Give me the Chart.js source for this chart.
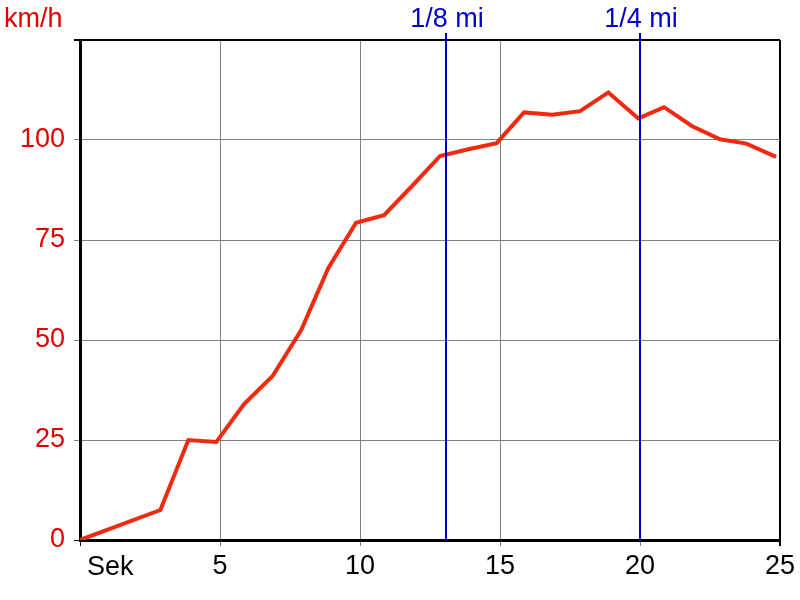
<!DOCTYPE html>
<html>
<head>
<meta charset="utf-8">
<script src="https://cdn.jsdelivr.net/npm/chart.js@4/dist/chart.umd.min.js"></script>
<style>
  body { margin: 0; background: #fff; }
  #wrap { width: 800px; height: 600px; }
</style>
</head>
<body>
<div id="wrap"><canvas id="chart" width="800" height="600"></canvas></div>
<script>
// seconds and speed
const seconds = [0, 2.87, 3.87, 4.87, 5.86, 6.88, 7.9, 8.87, 9.86, 10.86, 11.86, 12.86,
                 13.87, 14.88, 15.86, 16.86, 17.86, 18.87, 19.94, 20.86, 21.85, 22.86, 23.8, 24.86];
const speed = [0, 7.5, 25, 24.5, 34, 41, 52.5, 68, 79.3, 81.2, 88.5, 96,
               97.7, 99.2, 106.9, 106.3, 107.2, 111.9, 105.4, 108.2, 103.5, 100.2, 99.1, 95.8];

// distance markers (time in seconds)
const markerTimes = [13.07, 20.0];
const markerLabels = ['1/8 mi', '1/4 mi'];

const yTicks = [0, 25, 50, 75, 100, 125];
const xTicks = [0, 5, 10, 15, 20, 25];

const fontFamily = '"Liberation Sans", Arial, sans-serif';
const fontSize = 27;
const red = '#e00000';
const blue = '#0000c8';

const points = seconds.map((s, i) => ({ x: s, y: speed[i] }));

// draws markers, border and extra labels
const extras = {
    id: 'extras',
    afterDatasetsDraw(chart) {
        const ctx = chart.ctx;
        const area = chart.chartArea;
        const xs = chart.scales.x;
        ctx.save();

        // blue distance lines
        ctx.strokeStyle = blue;
        ctx.lineWidth = 2;
        ctx.font = fontSize + 'px ' + fontFamily;
        ctx.fillStyle = blue;
        ctx.textAlign = 'center';
        ctx.textBaseline = 'alphabetic';
        markerTimes.forEach((t, i) => {
            const px = Math.round(xs.getPixelForValue(t));
            ctx.beginPath();
            ctx.moveTo(px, area.top - 7);
            ctx.lineTo(px, area.bottom);
            ctx.stroke();
            ctx.fillText(markerLabels[i], px + 1, 27);
        });

        // unit labels
        ctx.fillStyle = red;
        ctx.textAlign = 'left';
        ctx.fillText('km/h', 4, 27);
        ctx.fillStyle = '#000';
        ctx.fillText('Sek', 87, 575);
        ctx.restore();
    }
};

new Chart(document.getElementById('chart'), {
    type: 'line',
    data: {
        datasets: [{
            data: points,
            borderColor: '#f02a10',
            borderWidth: 4,
            pointRadius: 0,
            tension: 0,
            fill: false
        }]
    },
    options: {
        responsive: false,
        animation: false,
        layout: { padding: { top: 40, right: 20, left: 0, bottom: 0 } },
        plugins: { legend: { display: false }, tooltip: { enabled: false } },
        scales: {
            x: {
                type: 'linear',
                min: 0,
                max: 25,
                afterBuildTicks: scale => { scale.ticks = xTicks.map(v => ({ value: v })); },
                afterFit: scale => { scale.height = 60; },
                ticks: {
                    color: '#000',
                    font: { family: fontFamily, size: fontSize },
                    padding: 4,
                    maxRotation: 0,
                    callback: v => (v === 0 ? '' : v)
                },
                grid: {
                    color: c => (c.tick && (c.tick.value === 25 || c.tick.value === 0) ? '#000' : '#808080'),
                    lineWidth: c => (c.tick && c.tick.value === 25 ? 2 : 1),
                    tickLength: 6
                },
                border: { color: '#000', width: 3 }
            },
            y: {
                min: 0,
                max: 125,
                afterBuildTicks: scale => { scale.ticks = yTicks.map(v => ({ value: v })); },
                afterFit: scale => { scale.width = 80; },
                ticks: {
                    color: red,
                    font: { family: fontFamily, size: fontSize },
                    padding: 9,
                    callback: v => (v === 125 ? '' : v)
                },
                grid: {
                    color: c => (c.tick && (c.tick.value === 125 || c.tick.value === 0) ? '#000' : '#808080'),
                    lineWidth: c => (c.tick && c.tick.value === 125 ? 2 : 1),
                    tickLength: 6
                },
                border: { color: '#000', width: 3 }
            }
        }
    },
    plugins: [extras]
});
</script>
</body>
</html>
